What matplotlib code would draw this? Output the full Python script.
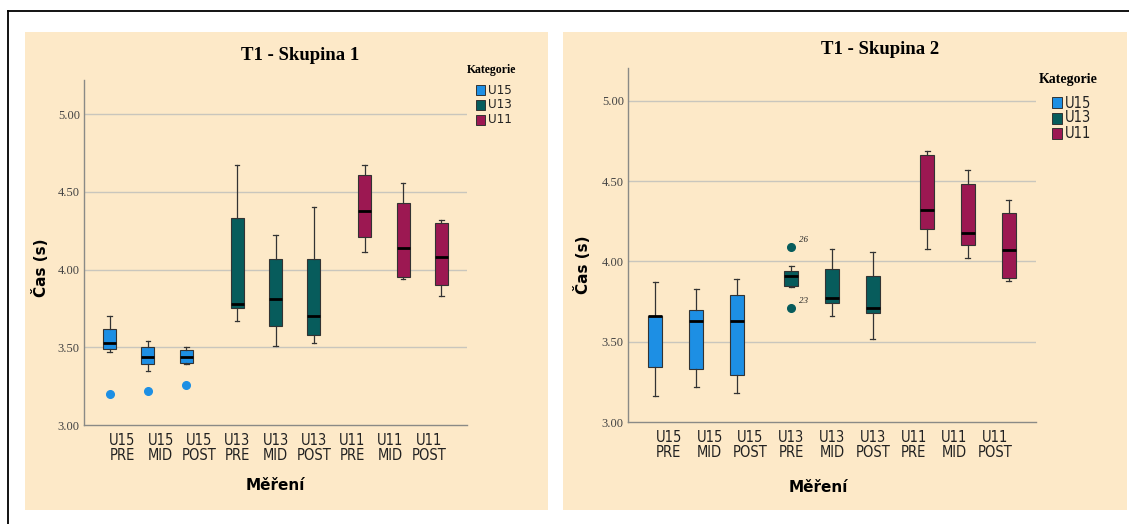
import matplotlib
matplotlib.use("Agg")
import matplotlib.pyplot as plt
from matplotlib.patches import Rectangle
from matplotlib.lines import Line2D
from matplotlib import font_manager

# ---------------- data ----------------
measurements = ["U15\nPRE", "U15\nMID", "U15\nPOST", "U13\nPRE", "U13\nMID",
                "U13\nPOST", "U11\nPRE", "U11\nMID", "U11\nPOST"]
group_of = ["U15", "U15", "U15", "U13", "U13", "U13", "U11", "U11", "U11"]
categories = ["U15", "U13", "U11"]
colors = {"U15": "#1d8fe4", "U13": "#075c5c", "U11": "#9c1852"}

# Skupina 1: whisker low, Q1, median, Q3, whisker high, outliers
s1_whislo = [3.47, 3.35, 3.39, 3.67, 3.51, 3.53, 4.11, 3.94, 3.83]
s1_q1     = [3.49, 3.39, 3.40, 3.75, 3.64, 3.58, 4.21, 3.95, 3.90]
s1_med    = [3.53, 3.44, 3.44, 3.78, 3.81, 3.70, 4.38, 4.14, 4.08]
s1_q3     = [3.62, 3.50, 3.48, 4.33, 4.07, 4.07, 4.61, 4.43, 4.30]
s1_whishi = [3.70, 3.54, 3.50, 4.67, 4.22, 4.40, 4.67, 4.56, 4.32]
s1_fliers = [[3.20], [3.22], [3.26], [], [], [], [], [], []]

# Skupina 2
s2_whislo = [3.16, 3.22, 3.18, 3.84, 3.66, 3.52, 4.08, 4.02, 3.88]
s2_q1     = [3.34, 3.33, 3.29, 3.85, 3.74, 3.68, 4.20, 4.10, 3.90]
s2_med    = [3.66, 3.63, 3.63, 3.91, 3.77, 3.71, 4.32, 4.18, 4.07]
s2_q3     = [3.66, 3.70, 3.79, 3.94, 3.95, 3.91, 4.66, 4.48, 4.30]
s2_whishi = [3.87, 3.83, 3.89, 3.97, 4.08, 4.06, 4.69, 4.57, 4.38]
s2_fliers = [[], [], [], [4.09, 3.71], [], [], [], [], []]
s2_flier_labels = {3: ["26", "23"]}

yticks = [3.0, 3.5, 4.0, 4.5, 5.0]
ytick_labels = ["3.00", "3.50", "4.00", "4.50", "5.00"]

BEIGE = "#fde9c8"
W, H = 1129, 524

# pick a narrow sans font if available
_names = {f.name for f in font_manager.fontManager.ttflist}
if "Liberation Sans Narrow" in _names:
    NARROW = dict(family="Liberation Sans Narrow")
else:
    NARROW = dict(family="DejaVu Sans", stretch="condensed")

fig = plt.figure(figsize=(W / 100, H / 100), dpi=100)
fig.patch.set_facecolor("white")

# outer border (top and left only)
fig.add_artist(Line2D([8 / W, 1.0], [1 - 11 / H, 1 - 11 / H],
                      transform=fig.transFigure, color="black", linewidth=1.3))
fig.add_artist(Line2D([8 / W, 8 / W], [0.0, 1 - 11 / H],
                      transform=fig.transFigure, color="black", linewidth=1.3))
# panel backgrounds
fig.patches.append(Rectangle((25 / W, (H - 510) / H), 523 / W, 478 / H,
                             transform=fig.transFigure, facecolor=BEIGE,
                             edgecolor="none", zorder=-10))
fig.patches.append(Rectangle((563 / W, (H - 510) / H), 564 / W, 478 / H,
                             transform=fig.transFigure, facecolor=BEIGE,
                             edgecolor="none", zorder=-10))

offsets = {"U15": -0.33, "U13": 0.0, "U11": 0.33}


def draw_panel(rect, ylim_top, whislo, q1, med, q3, whishi, fliers, flier_labels,
               title, title_xy, ylab_xy, xlab_xy, leg):
    ax = fig.add_axes(rect)
    ax.set_zorder(2)
    ax.set_facecolor(BEIGE)
    for i in range(len(measurements)):
        st = dict(whislo=whislo[i], q1=q1[i], med=med[i], q3=q3[i],
                  whishi=whishi[i], fliers=fliers[i])
        pos = i + offsets[group_of[i]]
        c = colors[group_of[i]]
        ax.bxp([st], positions=[pos], widths=0.34, patch_artist=True,
               showfliers=True, capwidths=0.12,
               boxprops=dict(facecolor=c, edgecolor="#333333", linewidth=0.8),
               medianprops=dict(color="black", linewidth=2.0),
               whiskerprops=dict(color="#333333", linewidth=0.9),
               capprops=dict(color="#333333", linewidth=0.9),
               flierprops=dict(marker="o", markerfacecolor=c, markeredgecolor=c,
                               markersize=5.5), manage_ticks=False)
        if i in flier_labels:
            for v, lab in zip(fliers[i], flier_labels[i]):
                ax.text(pos + 0.2, v + 0.045, lab, fontsize=6.5,
                        family="Liberation Serif", style="italic",
                        ha="left", va="center", color="#222222")
    ax.set_xlim(-1.0, 9.0)
    ax.set_ylim(3.0, ylim_top)
    ax.set_yticks(yticks)
    ax.set_yticklabels(ytick_labels, family="Liberation Serif", fontsize=9,
                       color="#444444")
    ax.set_xticks(range(len(measurements)))
    ax.set_xticklabels(measurements, fontsize=10.5, color="#222222",
                       linespacing=1.0, **NARROW)
    ax.tick_params(axis="both", length=0, pad=3)
    ax.tick_params(axis="x", pad=6)
    for y in yticks[1:]:
        ax.axhline(y, color="#c9c6bd", linewidth=1.0, zorder=0)
    for s in ["top", "right"]:
        ax.spines[s].set_visible(False)
    for s in ["left", "bottom"]:
        ax.spines[s].set_color("#8a8a86")
        ax.spines[s].set_linewidth(1.0)
    fig.text(title_xy[0] / W, 1 - title_xy[1] / H, title, family="Liberation Serif",
             fontweight="bold", fontsize=13.5, ha="center", va="center")
    fig.text(ylab_xy[0] / W, 1 - ylab_xy[1] / H, "Čas (s)", family="DejaVu Sans",
             fontweight="bold", fontsize=11, rotation=90, ha="center", va="center")
    fig.text(xlab_xy[0] / W, 1 - xlab_xy[1] / H, "Měření", family="DejaVu Sans",
             fontweight="bold", fontsize=11, ha="center", va="center")
    # legend
    (tx, ty, tsize), (px, pw, ph, ys, tsz) = leg
    fig.text(tx / W, 1 - ty / H, "Kategorie", family="Liberation Serif",
             fontweight="bold", fontsize=tsize, ha="center", va="center")
    for c, yc in zip(categories, ys):
        fig.patches.append(Rectangle((px / W, 1 - (yc + ph / 2) / H), pw / W, ph / H,
                                     transform=fig.transFigure, facecolor=colors[c],
                                     edgecolor="#333333", linewidth=0.7, zorder=3))
        fig.text((px + pw + 3) / W, 1 - yc / H, c, fontsize=tsz, color="#222222",
                 ha="left", va="center", **NARROW)
    return ax


draw_panel([84 / W, (H - 425) / H, 383 / W, 345 / H], 5.22,
           s1_whislo, s1_q1, s1_med, s1_q3, s1_whishi, s1_fliers, {},
           "T1 - Skupina 1", (300, 55), (40, 268), (275, 485),
           ((492, 70, 8.5), (476, 9, 10, [90, 105, 120], 9.5)))

draw_panel([628 / W, (H - 422) / H, 408 / W, 354 / H], 5.205,
           s2_whislo, s2_q1, s2_med, s2_q3, s2_whishi, s2_fliers, s2_flier_labels,
           "T1 - Skupina 2", (880, 50), (583, 265), (818, 487),
           ((1068, 80, 10), (1052, 10, 11, [103, 118, 133], 10.5)))

fig.savefig("out.png", dpi=100, facecolor="white")
